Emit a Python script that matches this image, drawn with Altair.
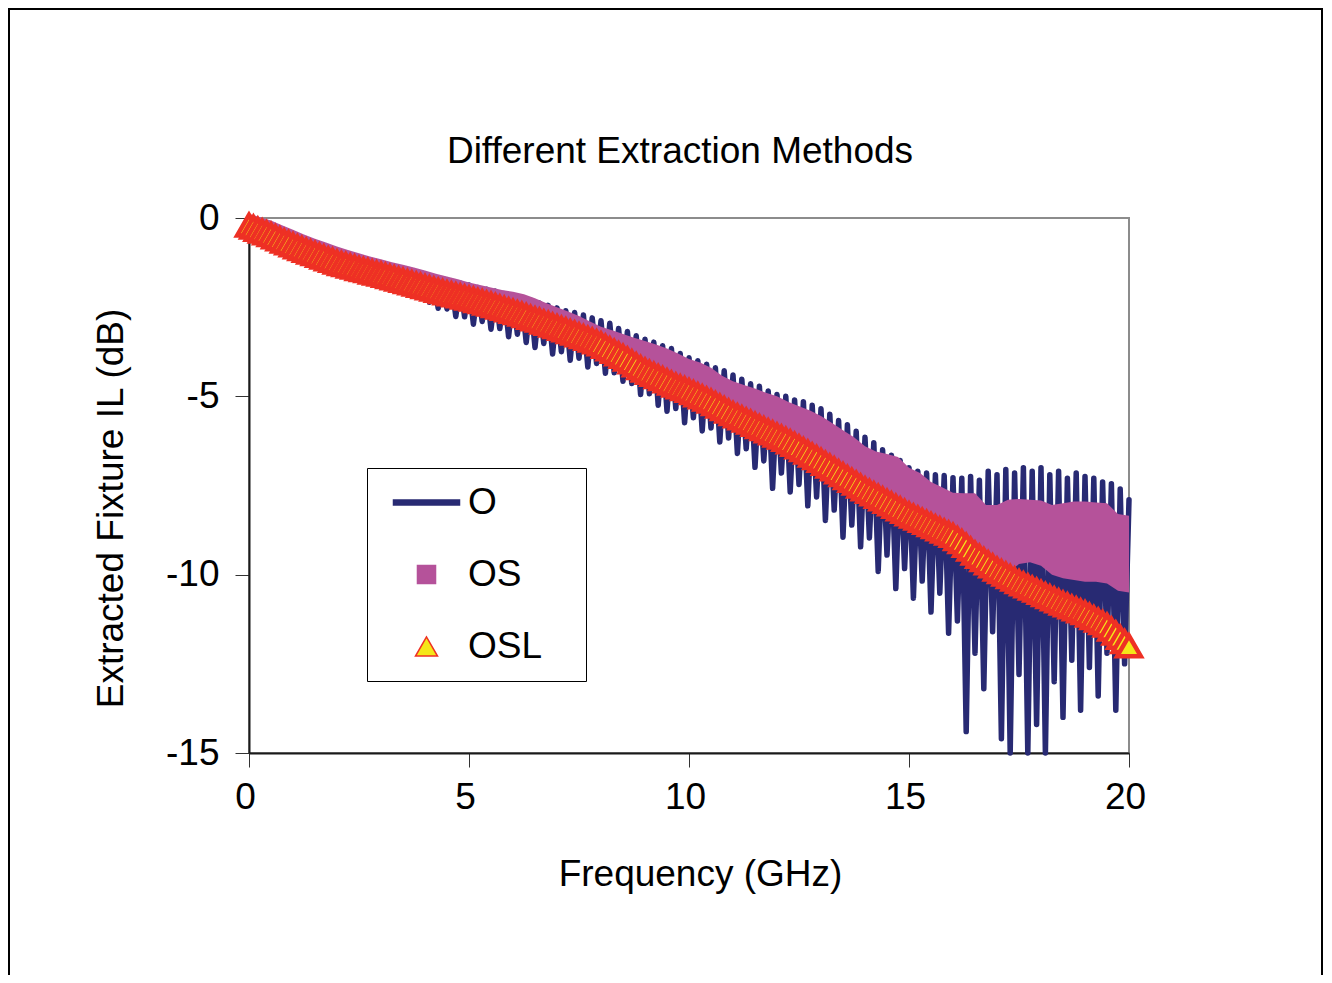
import altair as alt
import pandas as pd

FONT = "Liberation Sans"
NAVY = "#282a73"
MAGENTA = "#b5529a"
RED = "#ee3024"
YELLOW = "#f5e619"

series_names = ["O", "OS", "OSL"]
x_ticks = [0, 5, 10, 15, 20]
y_ticks = [-15, -10, -5, 0]

freq_fine = [round(i * 0.1, 1) for i in range(201)]
freq_os = [round(i * 0.25, 2) for i in range(81)]

o_vals = [
    -0.05, -0.45, -0.15, -0.57, -0.25, -0.67, -0.35, -0.79, -0.47, -0.90,
    -0.58, -1.01, -0.68, -1.11, -0.78, -1.20, -0.87, -1.30, -0.97, -1.39,
    -1.06, -1.48, -1.13, -1.55, -1.20, -1.62, -1.27, -1.68, -1.34, -1.75,
    -1.40, -1.81, -1.45, -1.90, -1.50, -1.98, -1.56, -2.07, -1.62, -2.15,
    -1.66, -2.36, -1.68, -2.53, -1.72, -2.55, -1.78, -2.76, -1.82, -2.77,
    -1.88, -2.98, -1.95, -2.90, -2.00, -3.12, -2.05, -3.10, -2.12, -3.33,
    -2.18, -3.26, -2.25, -3.49, -2.30, -3.63, -2.38, -3.52, -2.45, -3.81,
    -2.52, -3.75, -2.60, -3.99, -2.65, -3.93, -2.72, -4.18, -2.80, -4.08,
    -2.88, -4.35, -2.95, -4.34, -3.10, -4.58, -3.18, -4.64, -3.30, -4.95,
    -3.40, -4.93, -3.48, -5.25, -3.58, -5.42, -3.66, -5.34, -3.80, -5.74,
    -3.92, -5.60, -4.00, -5.97, -4.10, -5.89, -4.20, -6.28, -4.28, -6.17,
    -4.40, -6.60, -4.52, -6.47, -4.65, -6.99, -4.72, -6.81, -4.85, -7.58,
    -4.95, -7.15, -5.00, -7.68, -5.10, -7.47, -5.15, -8.07, -5.25, -7.82,
    -5.35, -8.48, -5.50, -8.19, -5.68, -8.95, -5.80, -8.61, -5.98, -9.22,
    -6.15, -8.97, -6.30, -9.91, -6.50, -9.45, -6.65, -10.39, -6.80, -9.83,
    -7.00, -10.66, -7.10, -10.18, -7.15, -11.05, -7.20, -10.52, -7.22, -11.64,
    -7.28, -11.30, -7.30, -14.40, -7.25, -12.20, -7.35, -13.20, -7.10, -11.60,
    -7.20, -14.60, -7.05, -15.00, -7.15, -12.80, -7.00, -15.00, -7.10, -14.20,
    -7.00, -15.00, -7.20, -13.00, -7.10, -14.00, -7.30, -12.40, -7.15, -13.80,
    -7.25, -12.60, -7.30, -13.40, -7.40, -12.20, -7.45, -13.80, -7.60, -12.50,
    -7.90,
]

osl_vals = [
    -0.20, -0.26, -0.32, -0.37, -0.42, -0.47, -0.53, -0.59, -0.65, -0.70,
    -0.76, -0.81, -0.86, -0.91, -0.96, -1.00, -1.05, -1.10, -1.15, -1.19,
    -1.24, -1.28, -1.31, -1.35, -1.38, -1.42, -1.45, -1.48, -1.52, -1.55,
    -1.58, -1.61, -1.65, -1.68, -1.72, -1.75, -1.79, -1.82, -1.86, -1.89,
    -1.93, -1.96, -2.00, -2.03, -2.07, -2.10, -2.13, -2.16, -2.19, -2.22,
    -2.25, -2.28, -2.32, -2.35, -2.39, -2.42, -2.46, -2.50, -2.54, -2.58,
    -2.62, -2.66, -2.70, -2.74, -2.79, -2.83, -2.87, -2.92, -2.96, -3.01,
    -3.05, -3.10, -3.14, -3.19, -3.23, -3.28, -3.33, -3.38, -3.43, -3.48,
    -3.53, -3.60, -3.67, -3.74, -3.81, -3.88, -3.96, -4.04, -4.12, -4.20,
    -4.27, -4.33, -4.39, -4.45, -4.51, -4.57, -4.63, -4.69, -4.74, -4.79,
    -4.84, -4.90, -4.96, -5.02, -5.08, -5.14, -5.21, -5.28, -5.35, -5.42,
    -5.49, -5.55, -5.61, -5.67, -5.73, -5.79, -5.85, -5.91, -5.97, -6.03,
    -6.09, -6.15, -6.21, -6.28, -6.35, -6.42, -6.50, -6.57, -6.65, -6.72,
    -6.80, -6.88, -6.96, -7.04, -7.12, -7.20, -7.28, -7.36, -7.44, -7.52,
    -7.60, -7.67, -7.74, -7.81, -7.88, -7.95, -8.02, -8.09, -8.16, -8.23,
    -8.30, -8.36, -8.42, -8.48, -8.54, -8.60, -8.66, -8.72, -8.78, -8.84,
    -8.90, -8.99, -9.08, -9.18, -9.29, -9.40, -9.49, -9.58, -9.67, -9.76,
    -9.85, -9.92, -9.99, -10.06, -10.13, -10.20, -10.26, -10.32, -10.38, -10.44,
    -10.50, -10.56, -10.62, -10.68, -10.74, -10.80, -10.85, -10.91, -10.96, -11.02,
    -11.07, -11.14, -11.21, -11.28, -11.35, -11.42, -11.53, -11.64, -11.76, -11.88,
    -12.00,
]

os_hi = [
    0.12, 0.02, -0.07, -0.20, -0.33, -0.46, -0.58, -0.69, -0.80, -0.90,
    -0.99, -1.08, -1.16, -1.24, -1.31, -1.39, -1.47, -1.56, -1.64, -1.72,
    -1.81, -1.88, -1.95, -2.02, -2.07, -2.14, -2.25, -2.38, -2.50, -2.62,
    -2.75, -2.90, -3.05, -3.15, -3.25, -3.36, -3.45, -3.55, -3.66, -3.80,
    -3.95, -4.05, -4.20, -4.42, -4.58, -4.68, -4.78, -4.90, -5.00, -5.15,
    -5.28, -5.40, -5.55, -5.75, -5.95, -6.15, -6.40, -6.55, -6.62, -6.70,
    -7.00, -7.15, -7.40, -7.55, -7.70, -7.72, -7.72, -8.05, -8.05, -7.90,
    -7.88, -7.90, -7.92, -8.05, -8.00, -7.95, -7.95, -7.98, -8.00, -8.30,
    -8.35,
]

os_lo = [
    -0.20, -0.35, -0.47, -0.62, -0.76, -0.89, -1.00, -1.12, -1.24, -1.33,
    -1.42, -1.50, -1.58, -1.66, -1.75, -1.84, -1.93, -2.01, -2.10, -2.17,
    -2.25, -2.33, -2.42, -2.52, -2.62, -2.72, -2.83, -2.94, -3.05, -3.16,
    -3.28, -3.40, -3.53, -3.70, -3.88, -4.08, -4.27, -4.42, -4.57, -4.71,
    -4.84, -4.99, -5.14, -5.31, -5.49, -5.64, -5.79, -5.94, -6.09, -6.24,
    -6.42, -6.61, -6.80, -7.00, -7.20, -7.40, -7.60, -7.77, -7.95, -8.12,
    -8.30, -8.45, -8.60, -8.75, -8.90, -9.13, -9.40, -9.62, -9.85, -9.95,
    -9.70, -9.65, -9.75, -10.00, -10.10, -10.15, -10.20, -10.20, -10.25, -10.45,
    -10.50,
]

df_o = pd.DataFrame({"f": freq_fine, "v": o_vals, "series": "O"})
df_osl = pd.DataFrame({"f": freq_fine, "v": osl_vals, "series": "OSL"})
df_os = pd.DataFrame({"f": freq_os, "hi": os_hi, "lo": os_lo, "series": "OS"})
df_frame = pd.DataFrame({"k": [0]})

xscale = alt.Scale(domain=[0, 20], nice=False, zero=False)
yscale = alt.Scale(domain=[-15, 0], nice=False, zero=False)

xaxis = alt.Axis(
    values=x_ticks, title="Frequency (GHz)", labelPadding=12, labelFlush=False,
    labelOffset=-4, titleX=451, titleY=132, titleBaseline="alphabetic",
    titleAlign="center",
)
yaxis = alt.Axis(
    values=y_ticks, title="Extracted Fixture IL (dB)", labelPadding=16,
    labelExpr="'' + datum.value",
    titleX=-127, titleY=290, titleBaseline="alphabetic", titleAlign="center",
    titleAngle=270,
)

legend = alt.Legend(
    orient="none", legendX=118, legendY=250, title=None, direction="vertical",
    labelFont=FONT, labelFontSize=37, labelColor="black",
    symbolSize=484, symbolStrokeWidth=1.5, symbolOffset=25,
    labelOffset=23, padding=16, rowPadding=34,
    strokeColor="black", fillColor="white",
    labelExpr="datum.label + '\u2800'",
)

shape_range = ["M-3,-0.22H3V0.22H-3Z", "M-0.82,-0.82H0.82V0.82H-0.82Z", "triangle-up"]

frame = alt.Chart(df_frame).mark_rect(fill="transparent", stroke="black", strokeWidth=2).encode(
    x=alt.value(-240), x2=alt.value(1073), y=alt.value(-209), y2=alt.value(800)
)

o_line = alt.Chart(df_o).mark_line(
    color=NAVY, strokeWidth=5.5, strokeJoin="round", strokeCap="round"
).encode(
    x=alt.X("f:Q", scale=xscale, axis=xaxis),
    y=alt.Y("v:Q", scale=yscale, axis=yaxis),
)

os_area = alt.Chart(df_os).mark_area(color=MAGENTA, opacity=1).encode(
    x=alt.X("f:Q", scale=xscale, axis=xaxis),
    y=alt.Y("hi:Q", scale=yscale, axis=yaxis),
    y2="lo:Q",
)

osl_pts = alt.Chart(df_osl).mark_point(filled=True, size=560, strokeWidth=4.5, opacity=1).encode(
    x=alt.X("f:Q", scale=xscale, axis=xaxis),
    y=alt.Y("v:Q", scale=yscale, axis=yaxis),
    shape=alt.Shape("series:N", scale=alt.Scale(domain=series_names, range=shape_range), legend=legend),
    fill=alt.Fill("series:N", scale=alt.Scale(domain=series_names, range=[NAVY, MAGENTA, YELLOW]), legend=legend),
    stroke=alt.Stroke("series:N", scale=alt.Scale(domain=series_names, range=[NAVY, MAGENTA, RED]), legend=legend),
)

chart = alt.layer(frame, o_line, os_area, osl_pts).properties(
    width=880,
    height=535,
    autosize=alt.AutoSizeParams(type="none"),
    padding={"left": 241, "top": 210, "right": 195, "bottom": 222},
    title=alt.TitleParams(
        "Different Extraction Methods", font=FONT, fontSize=37, fontWeight="normal",
        color="black", anchor="middle", frame="group", offset=37,
        baseline="alphabetic", dx=-9, dy=229,
    ),
).configure_axis(
    labelFont=FONT, labelFontSize=37, labelColor="black",
    titleFont=FONT, titleFontSize=37, titleFontWeight="normal", titleColor="black",
    domainColor="#1a1a1a", domainWidth=2, tickColor="#333333", tickWidth=1,
    tickSize=14, grid=False, zindex=1,
).configure_view(stroke="#8c8c8c", strokeWidth=2)

chart.save("out.html", embed_options={"renderer": "svg", "actions": False})
